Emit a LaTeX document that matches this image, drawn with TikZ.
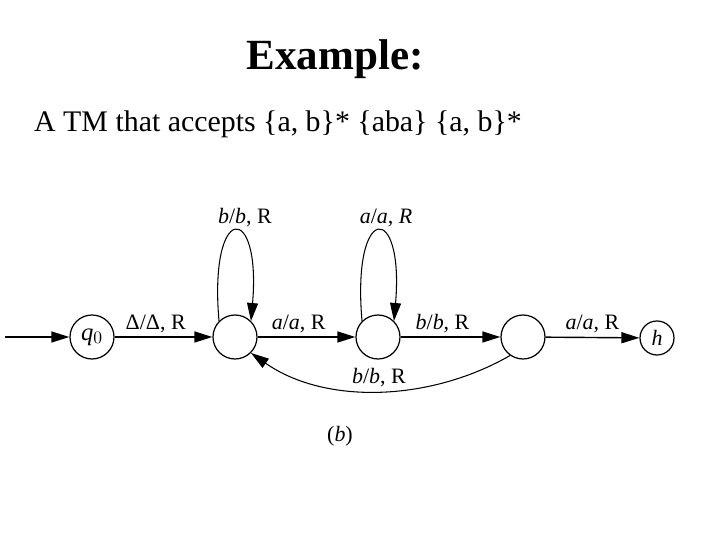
\documentclass[tikz,border=0pt]{standalone}
\usepackage{fontspec}
\setmainfont{Liberation Serif}
\usetikzlibrary{arrows.meta}

\begin{document}
\begin{tikzpicture}[
    font=\fontsize{12.5}{14}\selectfont,
    title/.style={font=\fontsize{24.5}{28}\selectfont\bfseries, anchor=base},
    subtitle/.style={font=\fontsize{17}{20}\selectfont, anchor=base west},
    state/.style={draw, circle, line width=0.7pt, minimum size=0.88cm, inner sep=0pt},
    halt/.style={draw, circle, line width=0.7pt, minimum size=0.68cm, inner sep=0pt},
    move/.style={inner sep=2pt},
    edge/.style={line width=0.8pt, -{Triangle[length=3.6mm, width=2.2mm]}},
]
    \useasboundingbox (0,0) rectangle (14.4,10.8);

    % Heading
    \node[title] (head) at (6.70,9.40) {Example:};
    \node[subtitle] (lang) at (0.56,8.16) {A TM that accepts \{a, b\}* \{aba\} \{a, b\}*};

    % States
    \node[state, font=\fontsize{14}{16}\selectfont] (q0) at (1.84,4.06) {\textit{q}$_0$};
    \node[state] (s1) at (4.70,4.06) {};
    \node[state] (s2) at (7.56,4.06) {};
    \node[state] (s3) at (10.46,4.06) {};
    \node[halt] (h) at (13.14,4.04) {\textit{h}};
    \coordinate (start) at (0.10,4.06);

    % Moves
    \draw[edge] (start) -- (q0);
    \draw[edge] (q0) -- node[move, above, pos=0.42] (m01) {Δ/Δ, R} (s1);
    \draw[edge] (s1) -- node[move, above, pos=0.42] (m12) {\textit{a}/\textit{a}, R} (s2);
    \draw[edge] (s2) -- node[move, above, pos=0.42] (m23) {\textit{b}/\textit{b}, R} (s3);
    \draw[edge] (s3) -- node[move, above] (m3h) {\textit{a}/\textit{a}, R} (h);

    % Loops
    \draw[edge, line width=0.6pt] (s1.135) to[out=95, in=85, distance=2.4cm]
        node[move, above, xshift=0.2cm] (m11) {\textit{b}/\textit{b}, R} (s1.45);
    \draw[edge, line width=0.6pt] (s2.135) to[out=95, in=85, distance=2.4cm]
        node[move, above, xshift=0.16cm] (m22) {\textit{a}/\textit{a}, \textit{R}} (s2.45);

    % Back move
    \draw[edge, line width=0.6pt] (s3.-125) to[out=-150, in=-35, looseness=0.9]
        node[move, above] (m31) {\textit{b}/\textit{b}, R} (s1.-45);

    \node (tag) at (6.80,2.08) {(\textit{b})};
\end{tikzpicture}
\end{document}
